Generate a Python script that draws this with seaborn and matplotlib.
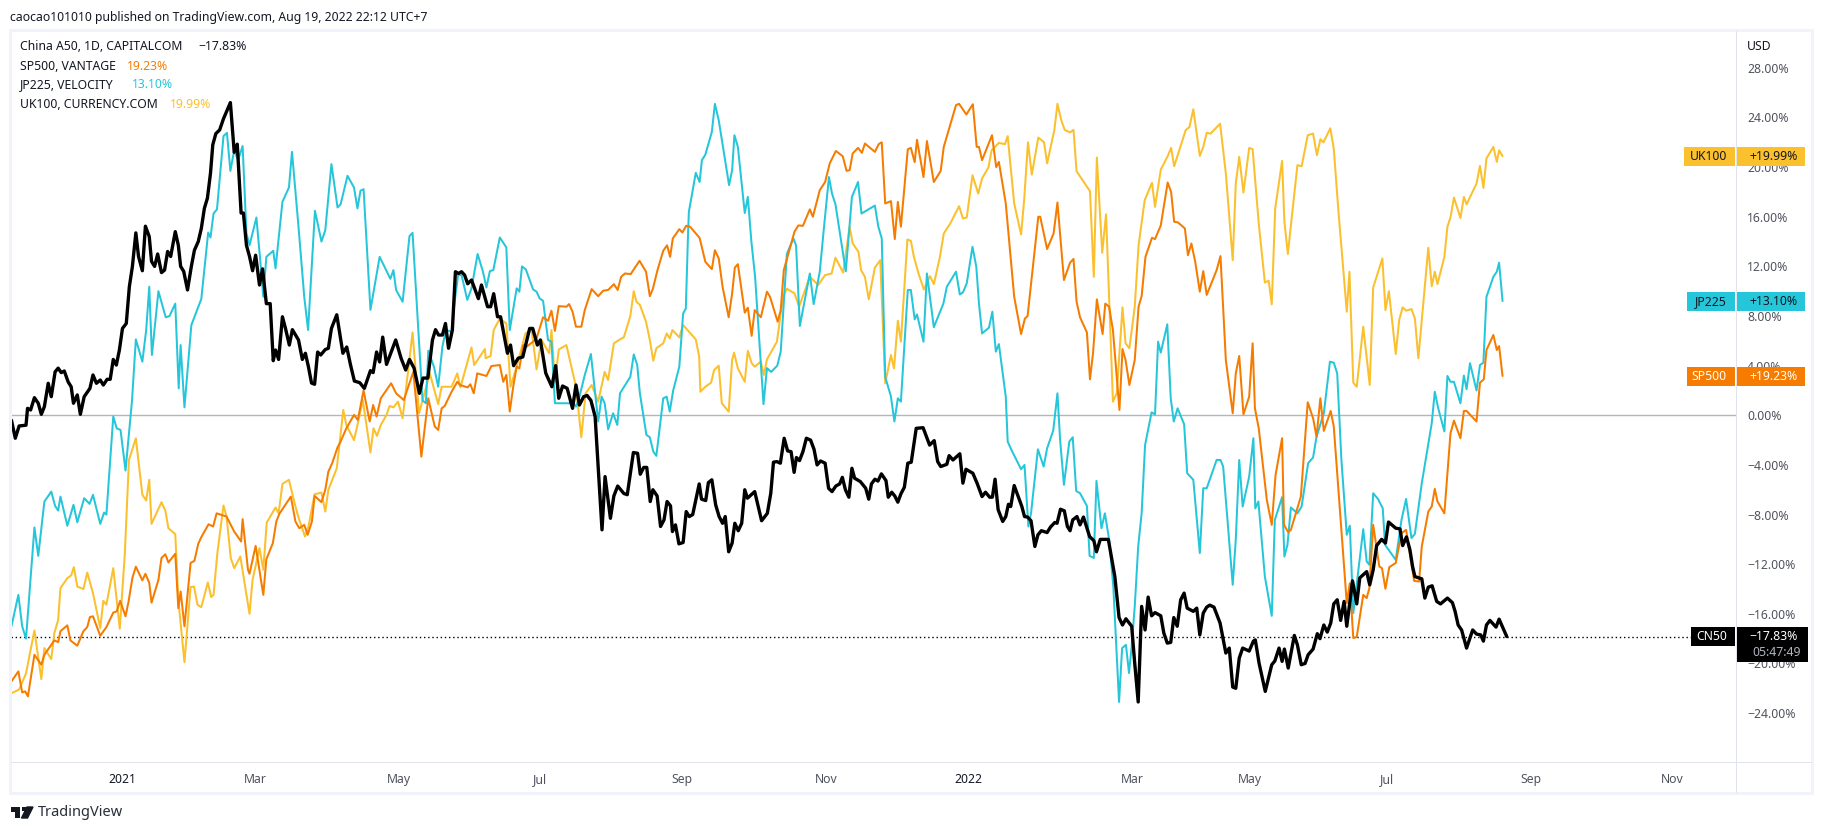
import pandas as pd
import seaborn as sns
import matplotlib.pyplot as plt
from matplotlib.lines import Line2D
from matplotlib.patches import Rectangle, Polygon

# (bar, % change)
cn50 = [(0,-.4),(1,-1.85),(2,-.86),(3.8,-.8),(4.2,.56),(5,.43),(6,1.42),(7,.97),(7.8,.08),(8.6,.7),(9.6,2.58),(10.4,1.5),(11.4,3.5),(12.2,3.8),(13,3.44),(13.8,3.57),(14.8,2.7),(15.6,2.3),(16.2,.97),(17.2,1.64),(18,.08),(19,1.5),(20.5,2.17),(21.3,3.25),(22.2,2.58),(23.2,2.84),(24,2.44),(25,2.9),(25.8,2.9),(26.6,4.5),(27.4,4.05),(28.2,5.26),(29,7),(30,7.4),(30.8,10.36),(31.6,12),(32.5,14.7),(33.2,12.8),(34.2,11.65),(35,15.24),(36,14.4),(36.6,12.4),(37.4,12),(38.2,13),(39.2,11.5),(40,11.7),(40.8,13.2),(41.6,12.8),(42.8,14.8),(43.6,13.7),(44.2,12),(45,11.6),(46,10.1),(47,12),(47.8,13.3),(48.8,14),(49.6,15.05),(50.4,16.67),(51.2,17.5),(52,19.5),(52.6,21.8),(53.4,22.7),(54.4,23),(55.4,23.9),(57.2,25.2),(58.2,21.2),(59,21.85),(60,16.3),(60.6,16.3),(61.4,13.7),(62.2,12.8),(63,11.65),(63.8,12.9),(64.8,10.5),(65.6,11.8),(66.6,9),(67.6,9),(68.4,4.4),(69,5.26),(69.8,4.5),(70.8,7.94),(71.6,7),(72.6,5.66),(73.4,6.9),(75,6.07),(76,4.5),(76.8,5),(77.6,3.9),(78.4,2.6),(79.2,2.5),(80,5.1),(80.8,4.86),(82,5.3),(82.8,5.4),(83.6,7),(85,8.1),(86.6,5),(87.6,5.5),(88.6,4.05),(89.6,2.76),(91,2.63),(92.2,2.17),(93.8,3.6),(94.5,3.44),(95.4,5.1),(96.2,4.3),(97,6.3),(98,4.1),(100.4,6.07),(101.8,4.6),(103,3.65),(104,4.5),(105.2,3.8),(106.6,1.77),(107.5,3),(108.8,3),(110,6.07),(110.8,6.9),(111.6,6.47),(112.6,6.47),(113.4,7.4),(114.2,5.4),(115.2,6.87),(116,11.57),(116.8,11.43),(117.6,11.57),(118.4,11.3),(119.2,10.6),(120.2,10.9),(122,9.4),(122.8,10.5),(124.4,8.75),(125.2,8.75),(126,9.8),(127,7.94),(127.8,7.94),(129.6,5),(130.4,5.66),(131.2,4),(132.4,4.6),(133.6,4.7),(135.4,7),(136.2,7),(137.4,5.66),(138.2,6.07),(139.6,3.4),(141.2,2.3),(142.2,4),(143,1.37),(144,2.36),(145.2,2.17),(146.6,.56),(147.5,2.44),(148.4,.83),(149.5,1.5),(150.4,1.6),(151.4,1.2),(152.5,-.1),
    (154.3,-9.23),(155.1,-4.94),(156.5,-8.3),(157.4,-6.5),(158.4,-5.7),(160,-6.3),(160.9,-6.4),(162.5,-3),(163.6,-3.06),(164.3,-4.75),(165.2,-4.2),(166,-4.2),(166.9,-6.95),(167.6,-6),(168.7,-6.5),(169.6,-8.96),(170.5,-8.43),(171.3,-6.95),(172.2,-7.3),(172.7,-9.37),(173.5,-8.83),(174.4,-10.36),(175.5,-10.25),(176.3,-7.76),(177.1,-8.16),(178,-8),(179,-6.55),(179.7,-5.53),(180.3,-6.76),(181.4,-6.87),(182.1,-5.42),(183,-5.2),(184,-7.22),(184.9,-8.16),(185.8,-8.7),(186.5,-8.16),(187.4,-11),(188.3,-10.3),(189,-8.7),(189.9,-9.3),(190.8,-8.7),(191.6,-6),(192.3,-6.68),(194.2,-6.15),(196,-8.5),(197.5,-7.9),(198.4,-6.28),(199.1,-3.78),(200,-3.73),(200.9,-3.86),(201.9,-1.85),(202.8,-2.87),(203.7,-2.93),(204.5,-4.6),(205.1,-3.4),(205.9,-3.65),(206.8,-2.93),(207.7,-1.85),(208.8,-2),(209.7,-2.74),(210.5,-4),(211.4,-3.68),(212.6,-3.86),(213.5,-5.88),(214.4,-6.15),(215.4,-5.7),(216.4,-5.53),(217.1,-5),(217.9,-6),(218.8,-6.6),(219.6,-4.27),(220.3,-5.07),(221.8,-5.34),(223.2,-5.88),(224,-6.76),(224.7,-5.53),(225.6,-5.15),(226.4,-5.3),(227.3,-4.72),(228.5,-5.26),(229.1,-6.6),(230,-6.2),(230.8,-6.5),(231.6,-7),(232.4,-6.33),(233.3,-5.8),(234.2,-3.86),(235.1,-3.78),(236.4,-1.05),(238.2,-1),(239.9,-2.4),(241.1,-2.04),(242,-3.73),(242.8,-4.13),(244.4,-3.95),(245,-3.25),(246,-3.6),(247.8,-3.1),(248.6,-5.47),(249.4,-4.35),(251.2,-4.67),(252.3,-5.47),(253.6,-6.55),(254.5,-6.2),(255.6,-6.6),(256.3,-6.6),(257,-5.15),(257.8,-7.6),(259,-8.56),(259.8,-8.16),(260.5,-7.17),(261.1,-7.35),(262,-5.66),(264,-7.35),(264.7,-8.16),(265.5,-8.2),(266.4,-8.5),(267.4,-10.57),(268.2,-9.63),(269.1,-9.3),(270.6,-9.45),(271.5,-9),(272.6,-8.64),(273.2,-8.7),(274.1,-7.57),(275.1,-7.7),(275.9,-8.96),(276.6,-9.3),(277.3,-8.43),(278.4,-8.16),(279.2,-8.83),(280.1,-8.2),(281.7,-9.77),(282.8,-10.1),(283.5,-11),(284.5,-10),(286.6,-10),
    (288.3,-13),(289.4,-16.3),(290.3,-16.9),(291.2,-16.4),(292.7,-17),(293.5,-20),(294.4,-23.1),(295.3,-15.4),(296.2,-17.3),(297,-14.65),(297.9,-16.16),(298.8,-15.9),(300.3,-16.16),(301.1,-17.55),(302,-18.36),(302.9,-18.3),(303.7,-16.3),(304.6,-17),(305.5,-14.87),(306.4,-14.33),(307.2,-15.54),(308.8,-15.8),(309.7,-15.54),(310.5,-17.7),(311.4,-15.94),(312.3,-15.46),(313.1,-15.3),(314.2,-15.46),(315.8,-16.75),(317.3,-19.16),(318.2,-18.76),(319.1,-21.9),(319.9,-22),(320.8,-19.57),(321.7,-18.76),(323.4,-19),(324.5,-18.2),(325,-18.1),(326,-20),(327.6,-22.25),(329.3,-20.1),(330.1,-19.8),(331.2,-18.76),(332,-19.83),(332.6,-18.84),(333.6,-20.37),(335.2,-17.74),(336,-18.5),(337,-20.1),(338,-20),(338.8,-19.3),(340.1,-18.84),(341.2,-17.6),(341.9,-18),(342.9,-16.9),(343.8,-17.47),(344.7,-16.75),(345.5,-15.2),(346.4,-14.87),(347.3,-16.53),(348.2,-15),(348.9,-17),(350.4,-13.34),(351.5,-15.2),(352.3,-13.1),(354.1,-12.6),(354.9,-13.66),(355.8,-12.45),(356.7,-10.5),(358,-10),(359,-10.3),(359.8,-8.6),(361.7,-9.1),(362.8,-9.15),(363.5,-10.5),(364.5,-9.8),(365.4,-10.84),(366.1,-12.2),(366.7,-13),(368.5,-13.18),(369.3,-14.73),(370.2,-13.85),(371.2,-13.74),(372.4,-15),(373.4,-15.2),(375.2,-14.73),(376.5,-15.1),(377.2,-15.8),(378,-16.9),(378.9,-17.3),(380.2,-18.76),(381.8,-17.3),(382.8,-17.63),(383.9,-17.7),(384.6,-18.2),(385.4,-16.9),(386.3,-16.53),(387.9,-17.07),(388.7,-16.43),(390.7,-17.83)]

jp225 = [(0,-17),(1.8,-14.47),(2.8,-17),(3.8,-18),(6,-9.04),(7,-11.33),(8.6,-6.95),(10.4,-6.15),(11.4,-7.3),(12.2,-7.68),(12.8,-6.55),(14.6,-8.9),(16.2,-7.22),(17.2,-8.62),(19,-6.68),(20.4,-7.14),(21.3,-6.41),(23.2,-8.75),(24.2,-7.84),(24.8,-8),(26.6,-.1),(27.5,-1.05),(28.5,-1.18),(29.8,-4.45),(31.5,1.2),(32.5,6.12),(34.2,4.32),(35.2,6.87),(36,10.36),(36.7,4.86),(38.4,10),(40.3,7.9),(41.3,8),(42.8,9),(43.7,2.17),(44.2,5.66),(45.2,.64),(47,7.27),(49.6,9.37),(51.4,14.73),(52,14.33),(52.8,16.26),(53.7,16.6),(55.4,22.5),(56.3,22.76),(57.2,19.7),(58.2,21.36),(59.2,20.56),(60.4,21.7),(61.4,14.65),(62.2,13.7),(64,15.94),(65,12.5),(65.8,9.55),(66.6,12.77),(68.4,13.26),(69,11.84),(70.8,17.2),(72.5,18.36),(73.3,21.23),(75,15.2),(76.5,9.55),(77.5,6.87),(79.3,16.48),(81,14),(82,14.92),(83.6,20.24),(85.2,16.75),(86,17),(87.8,19.3),(89.5,18.36),(90.4,16.67),(91.2,18.1),(92,18.22),(93.8,8.5),(95.2,11),(96.2,12.77),(99,11),(99.8,11.7),(100.5,10.1),(102.2,9.15),(104,14.44),(104.8,14.7),
    (107.4,1.2),(108.3,.97),(108.9,5.2),(110.4,3.9),(111.5,2.3),(112.6,5.53),(113.5,6.87),(115,6.74),(115.8,9.15),(116.7,11.3),(117.6,11.3),(119.1,9.3),(120.2,10.23),(121.8,13),(123.2,11.57),(124.1,10.3),(125,11.62),(125.9,11.7),(127.6,14.33),(129.3,13.53),(130.2,6.87),(132,10.23),(132.7,9.96),(133.4,12),(134.4,11.76),(136.3,10.14),(137.2,9.96),(138,9.42),(138.9,9.23),(140.2,6.07),(141.1,5.93),(142,.97),(146.8,.97),(147.5,.7),(148.3,1.37),(149.8,3.25),(151.4,4.94),(153.3,-.5),(154.2,1.5),(155,.97),(155.9,-1.13),(157.2,.16),(158.3,-.78),(159,1.77),(161.7,3.1),(162.6,4.9),(163.5,4.05),(164.2,1.77),(165.9,-1.58),(166.8,-1.77),(167.7,-2.93),(168.5,-3.27),(170.3,1.37),(171.2,1.5),(172,.3),(172.9,2),(174.5,3.92),(175.5,8.2),(176.2,8.6),(176.8,14.8),
    (177,16.4),(178.8,19.54),(179.8,18.8),(180.4,20.56),(181.3,21),(183,22.84),(183.8,25.1),(184.8,23.78),(187.5,18.55),(188.3,19.75),(188.9,22.57),(189.8,21.63),(191.6,16.3),(192.4,17.6),(193.3,14.1),(194.3,11.16),(196.5,.9),(197.4,3.8),(198.5,3.5),(200.1,4),(201,5.13),(202.6,13),(204.3,14.25),(205,13.7),(206,7.2),(208.6,11.43),(209.6,8.96),(211.2,11.57),(212.4,15.46),(213.6,19.2),(214.4,17.87),(215.3,17),(218,11.6),(219.6,17.6),(221.2,18.8),(222.1,16.26),(225.6,16.9),(226.5,15.2),(227.4,14.25),(228.3,3.1),(229.8,1.5),(230.7,-.5),(231.6,1.37),(232.4,1.1),(234.2,10.1),(235,10.1),(236,7.73),(236.6,8.13),(238.3,5.93),(239.2,11.43),(241,7.1),(243.5,9),(244.4,10.36),(246.8,11.57),(247.8,9.74),(248.6,9.9),(249.6,10.63),(251.1,13.58),(252.1,11.97),(252.8,9),(253.6,6.6),(255.4,7.06),(256.3,8.35),(257.2,5.13),(258,5.74),(259.8,1.5),(260.3,-2.12),(261.3,-2.8),
    (263.8,-4.35),(264.7,-4),(265.7,-8.96),(266.4,-7.9),(268.2,-2.74),(269.7,-4.13),(270.6,-2.66),(272.2,-1.23),(273.3,1.77),(274,-2),(275,-5.6),(276.4,-2.12),(277.3,-1.77),(278.2,-6.1),(279.2,-6.28),(281,-7.3),(281.7,-11.33),(282.8,-11.5),(283.5,-5.29),
    (284.8,-9.1),(285.7,-7.9),(286.8,-10),(287.9,-13.8),(289.4,-23.1),(290.2,-18.76),(291.2,-18.5),(292,-20.77),(292.7,-18.6),(293.5,-15.4),(294.4,-10.57),(295.3,-7.9),(296.2,-2.39),(297.9,.24),(298.8,.08),(299.6,5.93),(300.3,5.05),(302,7.33),(302.9,1.37),(303.7,-.5),(304.7,.56),(306.4,-.72),(307.2,-4.67),(308.8,-5.2),(310.5,-11.1),(311.4,-5.88),(312.3,-5.88),(314.9,-3.6),(315.9,-3.6),(316.6,-4.13),(319.1,-13.66),(319.9,-10),(320.8,-3.6),(321.7,-7.35),(323.4,-4.94),(324.5,-1.85),(325,-7.5),(325.8,-6.95),(327.5,-13),(329.3,-16.16),(330.1,-8.43),(332,-6.6),(332.6,-11.38),(333.4,-10.44),(334.3,-7.43),(336,-7.9),(337.1,-7.35),(338.8,-3.86),(340.1,-3.4),(341,-1.72),(342.9,.16),(344.5,4.32),(345.5,4.24),(346.4,3.38),(347.5,-3.6),(348.9,-9.63),(349.7,-8.9),(350.6,-15.94),(353.2,-9.18),(354.1,-11.78),(354.8,-12.05),(355.8,-6.28),(357.1,-6.76),(358.3,-7.5),(358.9,-10.44),(361.7,-11.65),(363.2,-8.43),(364.4,-6.74),(365.8,-9.9),(366.7,-9.55),(368.5,-5.47),(371.1,-.64),(371.9,1.9),(372.8,.56),(374.4,-1.3),(375.2,3.17),(376,2.7),(376.9,2.7),(378.6,.97),(379.5,3.2),(380.2,2.1),(381.1,4.2),(382.8,2),(383.7,4.05),(384.6,4.24),(385.4,9.55),(387.2,11.16),(388.1,11.57),(388.7,12.3),(389.6,9.2)]

sp500 = [(0,-21.44),(1.8,-20.64),(2.8,-22.33),(3.6,-22.25),(4.3,-22.65),(6,-19.3),(7.8,-20.1),(8.6,-19.3),(11.2,-18.14),(12.2,-18.28),(12.8,-17.4),(14.6,-16.93),(15.4,-18.14),(17.2,-18.57),(18.8,-17.4),(19.8,-17.07),(20.5,-16.26),(21.3,-16.2),(23.2,-17.77),(24.8,-17.07),(26.6,-15.9),(27.5,-15.8),(28.4,-14.95),(29.8,-16.2),(30.6,-15),(31.6,-13.1),(32.5,-12.2),(34.2,-13.3),(35,-12.77),(36,-13.5),(36.6,-15.1),(38.4,-13.26),(39.2,-11.5),(40.2,-11.2),(41,-11.86),(42.8,-11.16),(43.6,-15.54),(44.2,-14.2),(45.2,-17),(46.8,-11.9),(47.8,-11.73),(48.8,-10.36),(49.6,-9.82),(51.5,-8.78),(52.7,-8.96),(53.6,-7.9),(56.2,-8.16),(58.2,-9.37),(60,-10.17),(60.4,-8.37),(61.8,-12.45),(62.2,-12.77),(63.8,-10.52),(65.8,-14.47),(66.6,-11.6),(68.3,-10.3),(69.2,-8.56),(70,-7.94),(73,-6.55),(74.2,-8.56),(75.2,-9.1),(76.5,-8.83),(77.4,-9.63),(78.5,-8.56),(79.2,-6.5),(81,-7),(82,-6),(82.8,-4.54),(83.8,-3.86),(85.2,-2.58),(85.8,-2.25),(87.5,-1.05),(89.5,.03),(90.5,-.38),(92,2),(93.6,-.5),(94.5,.83),(95.4,-.1),(96.5,1.37),(99.2,2.58),(100.5,1.77),(102.5,1.23),(105,3.5),
    (107.1,-3.33),(108.9,1.37),(110.6,-.9),(111.5,-1.18),(112.4,.56),(113.2,.75),(115,1.9),(116.5,2.7),(117.2,2.44),(119.2,2.25),(119.9,2.5),(120.8,1.77),(121.7,3.38),(124.1,3.17),(125.4,3.97),(127.6,4.05),(128.5,2.7),(129.3,3.25),(130.2,.3),(131.1,2.3),(132,3.92),(132.7,3.78),(133.7,5.66),(134.6,5.53),(136.3,5.93),(137.2,6.2),(138.9,7.9),(140.2,7.62),(141.1,8.43),(142,6.8),(143,8.8),(145,8.75),(145.7,8.96),(146.6,8.35),(147.5,7.14),(148.9,7.14),(149.8,8.48),(151.6,10.17),(153.3,9.6),(154.6,10.04),(155.9,10.1),(157.4,10.57),(158.4,10.1),(159.3,11.16),(160.3,11.43),(161.8,11.38),(164.1,12.45),(165.8,11.57),(166.8,9.6),(167.6,10.2),(168.8,11.7),(170.3,13.26),(171.3,13.7),(172.1,12.77),(172.8,14.25),(174.5,15),(175.3,14.73),(176.3,15.27),(177.3,15.2),(179.8,14.3),(181.3,12.37),(183,11.78),(183.8,13.3),(184.8,12.64),(185.8,10.36),(187.4,7.9),(188.3,9.82),(189,11.9),(189.8,12.18),(191.6,8.27),(192.4,8.67),(193.4,6.4),(194.2,8.48),(195.8,7.9),(197.4,9.96),(198.2,9.55),(200.2,7.54),(201,8.48),(201.8,11.7),(203.6,13.7),(204.6,14.8),(205.6,15.3),(206.8,15.27),(208.6,16.6),(209.4,16),(211.2,18.14),(212.6,18.8),(213.8,20.3),(215.4,21.3),(217.2,20.88),(218.2,19.7),(219,19.75),(219.8,21.1),(221.2,21.55),(222.2,21.15),(223,21.9),(225.6,21.23),(226.6,21.85),(227.4,22),(228.3,17.07),(229.8,17.26),(230.8,14.2),(231.6,17.2),(232.4,15.2),(234.2,21.44),(235,21.55),(236,20.4),(236.6,22.2),(238.3,19.2),(239.2,22.1),(241,18.8),(242.8,19.7),(243.6,21.63),(246.8,25),(247.6,25.1),(249.5,24.24),(251.2,25.07),(252.2,21.63),(252.8,21.63),(253.6,20.56),(256.2,22.57),(257.3,20),(258,20.42),(259.8,17.07),(262,9.55),(263.8,6.55),(264.8,7.8),(265.5,8),(268.3,16),(268.8,16),(270.6,13.4),(272.3,14.65),(273.3,17.15),(275,10.9),(276.6,12.3),(277.5,12.6),(278.3,9.15),(279.2,7.9),(281,6.68),(281.8,2.9),(282.6,5),(283.6,9.34),(285.1,6.55),(285.8,9),(286.8,8.75),(287.8,6.87),(289.5,.43),(290.3,5.34),(291.1,4.46),(292.1,2.44),(293.5,4.46),(294.5,8.75),(295.3,9.6),(296.3,12.77),(298,14.3),(298.8,14.2),(300.3,15.3),(302.1,18.76),(303,18),(303.8,15.6),(304.8,15.54),(306.6,15.06),(307.4,12.9),(308.3,13.85),(309.3,12.37),(310.5,9.96),
    (311.4,11.62),(312.3,9.7),(314.9,11.7),(315.9,12.83),(317.3,4.46),(319.1,.16),(319.9,3.38),(320.8,4.78),(321.9,.08),(323.4,1.5),(324.3,5.8),(324.9,.56),(325.9,-1.05),(328,-6.8),(329.3,-8.83),(330.3,-4.8),(332,-1.85),(332.5,-8.83),(333.6,-9.42),(334.3,-9.23),(336.9,-6.55),(338.7,1.05),(340.1,-.24),(341,-1.72),(342,1.37),(342.9,-1.26),(344.7,.35),(345.5,-.9),(347.1,-7.6),(348.9,-15.14),(349.7,-13.53),(350.6,-17.95),(351.5,-17.87),(353.2,-14.47),(354.1,-14.73),(354.8,-13.93),(355.8,-8.83),(357.4,-12.18),(358.1,-12.32),(359,-13.98),(360,-12.24),(361.7,-11.9),(363.2,-9.5),(364.4,-9.23),(366.5,-13.34),(367.8,-13.4),(368.5,-10.57),(370.2,-7.76),(371.1,-7.35),(371.9,-5.93),(372.6,-6.95),(374.4,-7.9),(376,-1.45),(376.9,-.43),(378.6,-1.85),(379.5,.35),(380.2,.35),(382.8,-.5),(383.7,2.63),(384.7,2.9),(385.4,5.26),(387.2,6.47),(388.1,5.26),(388.7,5.58),(389.6,3.17)]

uk100 = [(0,-22.4),(2,-22.1),(3.8,-20.8),(6,-17.34),(7.8,-21.26),(8.6,-18.76),(10.4,-19.65),(11.2,-17.55),(12.2,-16.5),(12.8,-13.93),(14.6,-13.12),(15.6,-12.9),(16.3,-12.24),(17.2,-13.8),(18.8,-14),(19.8,-12.67),(21.3,-14.33),(23.2,-17.15),(24,-14.95),(24.8,-15.27),(26.6,-12.32),(28.3,-17.2),(29.6,-11.25),(30.7,-3.6),(32.5,-1.85),(34.2,-6.4),(35.2,-6.87),(36,-5.2),(36.6,-8.75),(39.2,-7),(40.2,-7.68),(41,-9.1),(42.8,-9.58),(43.6,-14.87),(45.2,-19.9),(46.8,-13.85),(47.7,-13.8),(48.6,-15.27),(49.6,-15.46),(51.3,-13.47),(52.2,-14.65),(52.8,-14.47),(53.8,-11.1),(55.4,-7.27),(56.2,-8.16),(57.3,-11.5),(58.2,-12.32),(59.8,-11.38),(62.2,-16),(63,-13.26),(64.8,-10.7),(65.8,-12.45),(66.7,-8.64),(69,-7.43),(69.8,-7.9),(70.8,-5.53),(72.5,-5.2),(74.2,-7.35),(75.2,-8.43),(76.7,-9.77),(77.6,-8.96),(79.2,-6.36),(81,-6.23),(82,-7.76),(82.8,-6),(85,-4.27),(86.7,.43),(87.5,-.78),(89.5,-2),(90.5,-.64),(91.8,1.23),(93.8,-3),(94.6,-1.05),(95.5,-1.66),(96.5,-.78),(98,.03),(98.8,.75),(99.8,.64),(101,1.1),(102.2,-.24),(104.8,6.68),(106.5,.16),
    (109.3,3.38),(111.5,.9),(112.4,2.3),(115,2.3),(116.5,3.38),(117.3,2.25),(120.2,5.47),(120.9,4.05),(123.7,5.34),(123.9,4.6),(125.2,4.78),(126,6.87),(127.6,7.8),(129.3,7.4),(130.4,2.3),(132,3.92),(134.3,6.6),(135.9,6.87),(137.2,3.7),(138.5,6.07),(140.5,5),(141.1,6.87),(142,2.7),(143,5.3),(145,5.66),(147.5,2.3),(148.9,-1.77),(150,1.77),(151.6,2.44),(153.3,1.1),(155,3.5),(155.9,2.84),(157.4,5.8),(159,6.12),(160,6.28),(161.7,8),(162.6,10),(163.3,9.15),(164.2,8.9),(165.8,7.54),(166.8,6.07),(167.7,4.4),(168.5,5.4),(170.3,5.8),(171.2,6.6),(172,6.2),(172.7,6.87),(174.5,6.28),(175.5,7.27),(178.8,6.12),(179.7,4.72),(180,1.9),
    (181.3,2.3),(182.8,2.63),(183.6,3.65),(184.8,4),(185.6,.97),(187.4,.3),(188.3,4.46),(188.8,5.05),(189.8,3.78),(191.6,2.7),(192.4,5.2),(193.4,4.2),(194.2,3.92),(195.8,4.32),(196.6,3.25),(197.4,4.5),(200,5.93),(201.6,9.55),(202.6,10.2),(204.6,9.82),(205.8,8.75),(208.6,11.16),(210.8,10.5),(212.6,11.3),(214.3,11.43),(215.3,12.7),(217.3,11.5),(219,15.2),(219.8,13.85),(221.3,13.18),(222,11.7),(223,11.16),(224,9.34),(225.6,11.9),(227,12.5),(228.3,2.58),(229.8,4.86),(230.6,3.78),(231.6,7.62),(232.4,5.93),(234.1,14.17),(235,14.06),(235.8,12.77),(237,11.43),(238.4,10.14),(240,11.22),(241,10.57),(242.6,12.77),(243.6,14.65),(245.3,15.46),(247.6,16.85),(248.6,15.86),(249.6,15.94),(251.1,19.35),(252.6,17.87),(253.6,19.08),(255.3,20),(256.1,21.36),(258,21.95),(259.6,21.85),(260.3,22.5),(262,17.07),(263.8,14.57),(264.6,17.34),(265.6,22),(266.6,19.4),(268.3,22.38),(269.8,22),(270.6,20.3),(272.5,23),(273.3,25.1),(274.3,23.78),(275.2,23),(276.6,22.8),(277.5,23),(278.3,19.67),(281.8,18.06),(282.8,11.16),(283.6,20.77),(285,13.1),(286,16.2),(287.8,1.1),(288.8,1.77),(290.3,8.7),(291.1,5.8),(292.1,5.4),(293.5,8.75),(294.5,13.7),(296.1,17.34),(298,18.73),(298.8,16.8),(300.3,19.8),(302.1,20.88),(303,21.55),(303.8,20.07),(306.8,22.97),(307.8,23.24),(308.8,24.66),(310.5,20.9),
    (311.4,21.63),(312.3,22.76),(313.3,22.7),(315.8,23.5),(317.3,19.5),(319.1,12.5),(319.9,18.68),(320.8,20.83),(321.9,17.95),(323.4,21.55),(324.3,21.44),(325.9,15.46),(327.5,10.7),(328.5,10.84),(329.3,8.94),(330.2,16.67),(332,20.5),(332.6,15.6),(333.5,13),(336,20.16),(337.1,20.07),(338.7,22.57),(340.1,22.7),(341.1,20.96),(342,22.25),(342.8,22),(344.6,23.13),(345.5,21.5),(346.7,16.53),(348.9,8.35),(349.6,11.57),(350.6,2.63),(351.5,2.3),(353.2,7.14),(354.9,2.44),(355.8,10.3),(358.2,12.64),(359,8.48),(359.9,10),(361.7,4.94),(362.6,7.68),(363.5,8.7),(364.4,8.43),(365.8,8.56),(366.7,7.8),(367.6,4.6),(370.2,13.5),(371.1,10.4),(371.9,11.57),(372.6,10.57),(374.4,12.77),(375.2,15.2),(376,15.94),(376.9,17.55),(378.6,15.9),(379.5,17.6),(380.2,17),(382.8,18.68),(383.7,20.1),(384.6,18.33),(385.4,20.7),(387.2,21.63),(388.1,20.42),(388.7,21.36),(389.6,20.88)]

month_ticks = [29, 63.8, 101.3, 138, 175.2, 213, 250, 292.8, 323.6, 359.4, 397, 434]
month_labels = ["2021", "Mar", "May", "Jul", "Sep", "Nov", "2022", "Mar", "May", "Jul", "Sep", "Nov"]
pct_ticks = [28, 24, 20, 16, 12, 8, 4, 0, -4, -8, -12, -16, -20, -24]

BLACK = "#000000"
CYAN = "#26C6DA"
ORANGE = "#F57C00"
YELLOW = "#FBC02D"
TEXT = "#131722"
GREY = "#50535E"
FRAME = "#F0F3FA"
LINE = "#E0E3EB"

W, H = 1823, 833


def fx(px):
    return px / W


def fy(py):
    return 1 - py / H


def box(fig, x0, y0, x1, y1, color):
    fig.patches.append(Rectangle((fx(x0), fy(y1)), (x1 - x0) / W, (y1 - y0) / H, transform=fig.transFigure,
                                 facecolor=color, edgecolor="none", zorder=4, figure=fig))


def badge(fig, x0, y0, y1, name, value, color, text_color):
    box(fig, x0, y0, 1735, y1, color)
    box(fig, 1737, y0, 1805, y1, color)
    fig.text(fx(1727), fy((y0 + y1) / 2), name, ha="right", va="center", fontsize=8.8, color=text_color, zorder=5)
    fig.text(fx(1798), fy((y0 + y1) / 2), value, ha="right", va="center", fontsize=8.8, color=text_color, zorder=5)


sns.set_theme(style="white")
plt.rcParams["font.family"] = ["Noto Sans", "DejaVu Sans"]

fig = plt.figure(figsize=(W / 100, H / 100), dpi=100)
ax = fig.add_axes([10.7 / W, fy(762), (1736 - 10.7) / W, (762 - 30) / H])

ax.axhline(0, color="#B2B5BE", linewidth=1, zorder=1)
ax.axhline(-17.83, color=BLACK, linewidth=1, linestyle=(0, (1, 2)), zorder=1)

for rows, color, width in [(uk100, YELLOW, 1.45), (jp225, CYAN, 1.45), (sp500, ORANGE, 1.45), (cn50, BLACK, 2.4)]:
    df = pd.DataFrame(rows, columns=["bar", "pct"])
    sns.lineplot(data=df, x="bar", y="pct", color=color, linewidth=width, estimator=None, sort=False,
                 legend=False, ax=ax, zorder=2)

ax.set_xlim(-0.2, 450.6)
ax.set_ylim(-27.94, 31.05)
ax.set_xlabel("")
ax.set_ylabel("")
for side in ax.spines:
    ax.spines[side].set_visible(False)

ax.yaxis.tick_right()
ax.set_yticks(pct_ticks)
ax.set_yticklabels([f"{v:.2f}%".replace("-", "\u2212") for v in pct_ticks])
ax.tick_params(axis="y", length=0, pad=8, labelsize=8.8, labelcolor=GREY)
ax.set_xticks(month_ticks)
ax.set_xticklabels(month_labels)
ax.tick_params(axis="x", length=0, pad=8, labelsize=8.8, labelcolor=GREY)
for lab in ax.get_xticklabels():
    if lab.get_text().startswith("20"):
        lab.set_fontweight("bold")
        lab.set_color(TEXT)

# frame and pane separators
for x0, y0, x1, y1, color, lw in [
    (10, 30, 1812, 30, FRAME, 3), (10, 793, 1812, 793, FRAME, 3),
    (10, 30, 10, 793, FRAME, 3), (1812, 30, 1812, 793, FRAME, 3),
    (11, 762, 1811, 762, LINE, 1), (1736, 31, 1736, 792, LINE, 1)]:
    fig.add_artist(Line2D([fx(x0), fx(x1)], [fy(y0), fy(y1)], color=color, linewidth=lw * 0.72))

fig.text(fx(10), fy(17), "caocao101010 published on TradingView.com, Aug 19, 2022 22:12 UTC+7",
         fontsize=8.8, color=TEXT, va="center")

legend_rows = [("China A50, 1D, CAPITALCOM", "\u221217.83%", TEXT, 47, 198),
               ("SP500, VANTAGE", "19.23%", ORANGE, 66, 127),
               ("JP225, VELOCITY", "13.10%", CYAN, 85, 132),
               ("UK100, CURRENCY.COM", "19.99%", YELLOW, 104, 169.5)]
for name, value, color, py, value_x in legend_rows:
    fig.text(fx(20), fy(py), name, fontsize=8.8, color=TEXT, va="center")
    fig.text(fx(value_x), fy(py), value, fontsize=8.8, color=color, va="center")

fig.text(fx(1747), fy(46), "USD", fontsize=8.8, color=TEXT, va="center")

badge(fig, 1684, 147, 166, "UK100", "+19.99%", YELLOW, TEXT)
badge(fig, 1687, 292, 311, "JP225", "+13.10%", CYAN, TEXT)
badge(fig, 1687, 367, 386, "SP500", "+19.23%", ORANGE, "white")

box(fig, 1691, 627, 1735, 646, BLACK)
box(fig, 1737, 627, 1808, 662, BLACK)
fig.text(fx(1727), fy(636.5), "CN50", ha="right", va="center", fontsize=8.8, color="white", fontweight="bold", zorder=5)
fig.text(fx(1798), fy(636.5), "\u221217.83%", ha="right", va="center", fontsize=8.8, color="white", zorder=5)
fig.text(fx(1801), fy(653), "05:47:49", ha="right", va="center", fontsize=8.8, color="#B2B5BE", zorder=5)

# TradingView mark
box(fig, 11, 807, 20, 811.5, TEXT)
box(fig, 15, 807, 20, 818, TEXT)
box(fig, 21.5, 807, 25.5, 811, TEXT)
fig.patches.append(Polygon([(fx(27), fy(807)), (fx(33), fy(807)), (fx(27.5), fy(818)), (fx(21.5), fy(818))],
                           closed=True, transform=fig.transFigure, color=TEXT, figure=fig))
fig.text(fx(38), fy(813), "TradingView", fontsize=10.5, color="#2A2E39", va="center")

fig.savefig("out.png", dpi=100)
